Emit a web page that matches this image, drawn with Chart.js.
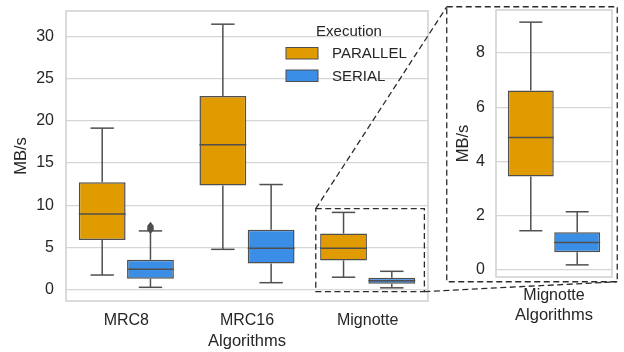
<!DOCTYPE html>
<html>
<head>
<meta charset="utf-8">
<script src="https://cdn.jsdelivr.net/npm/chart.js@4/dist/chart.umd.min.js"></script>
<style>
  html, body { margin: 0; padding: 0; background: #fff; }
  #wrap { position: relative; width: 624px; height: 352px; }
  #main { position: absolute; left: 0; top: 0; }
  #inset { position: absolute; left: 446px; top: 6px; }
</style>
</head>
<body>
<div id="wrap">
  <canvas id="main" width="624" height="352"></canvas>
  <canvas id="inset" width="172" height="320"></canvas>
</div>
<script>
const algorithms = ['MRC8', 'MRC16', 'Mignotte'];
const seriesNames = ['PARALLEL', 'SERIAL'];

const parallelMin = [1.7, 4.75, 1.44];
const parallelQ1 = [5.87, 12.33, 3.44];
const parallelMedian = [8.95, 17.17, 4.88];
const parallelQ3 = [12.73, 22.97, 6.62];
const parallelMax = [19.15, 31.5, 9.14];
const parallelOutliers = [[], [], []];

const serialMin = [0.24, 0.79, 0.18];
const serialQ1 = [1.26, 3.07, 0.65];
const serialMedian = [2.4, 4.88, 1.01];
const serialQ3 = [3.51, 7.09, 1.38];
const serialMax = [6.94, 12.45, 2.14];
const serialOutliers = [[7.1, 7.3, 7.5], [], []];

const mainTicks = [0, 5, 10, 15, 20, 25, 30];
const insetTicks = [0, 2, 4, 6, 8];

const orange = '#e09b00';
const blue = '#3a8ee6';
const edge = '#4f4f4f';
const gridColor = '#d6d6d6';
const textColor = '#262626';
const FONT = "'Liberation Sans', Arial, sans-serif";

// seaborn-like limits: 5% margin around the whiskers
function limits(idx) {
  const lo = Math.min(...idx.map(i => Math.min(parallelMin[i], serialMin[i])));
  const hi = Math.max(...idx.map(i => Math.max(parallelMax[i], serialMax[i])));
  const pad = (hi - lo) * 0.05;
  return [lo - pad, hi + pad];
}

function makeDatasets(idx, barPct) {
  const stats = [
    [parallelMin, parallelQ1, parallelMedian, parallelQ3, parallelMax, parallelOutliers, orange],
    [serialMin, serialQ1, serialMedian, serialQ3, serialMax, serialOutliers, blue]
  ];
  return stats.map(([mn, q1, md, q3, mx, out, col], s) => ({
    label: seriesNames[s],
    data: idx.map(i => [q1[i], q3[i]]),
    whisLow: idx.map(i => mn[i]),
    whisHigh: idx.map(i => mx[i]),
    median: idx.map(i => md[i]),
    outliers: idx.map(i => out[i]),
    backgroundColor: col,
    borderColor: edge,
    borderWidth: 1.5,
    borderSkipped: false,
    categoryPercentage: 0.8,
    barPercentage: barPct
  }));
}

const boxParts = {
  id: 'boxParts',
  beforeDatasetsDraw(chart) {
    const { ctx, chartArea: a } = chart;
    ctx.save();
    ctx.strokeStyle = '#cfcfcf';
    ctx.lineWidth = 1.5;
    ctx.strokeRect(a.left, a.top, a.right - a.left, a.bottom - a.top);
    ctx.restore();
  },
  afterDatasetsDraw(chart) {
    const { ctx } = chart;
    const y = chart.scales.y;
    ctx.save();
    ctx.strokeStyle = edge;
    ctx.fillStyle = edge;
    ctx.lineWidth = 1.5;
    chart.data.datasets.forEach((ds, di) => {
      chart.getDatasetMeta(di).data.forEach((bar, i) => {
        const x = bar.x, w = bar.width;
        const [q1, q3] = ds.data[i];
        const line = (x1, y1, x2, y2) => {
          ctx.beginPath(); ctx.moveTo(x1, y1); ctx.lineTo(x2, y2); ctx.stroke();
        };
        line(x, y.getPixelForValue(q3), x, y.getPixelForValue(ds.whisHigh[i]));
        line(x, y.getPixelForValue(q1), x, y.getPixelForValue(ds.whisLow[i]));
        line(x - w / 4, y.getPixelForValue(ds.whisHigh[i]), x + w / 4, y.getPixelForValue(ds.whisHigh[i]));
        line(x - w / 4, y.getPixelForValue(ds.whisLow[i]), x + w / 4, y.getPixelForValue(ds.whisLow[i]));
        line(x - w / 2, y.getPixelForValue(ds.median[i]), x + w / 2, y.getPixelForValue(ds.median[i]));
        ds.outliers[i].forEach(v => {
          const py = y.getPixelForValue(v);
          ctx.beginPath();
          ctx.moveTo(x, py - 4.5); ctx.lineTo(x + 3.5, py); ctx.lineTo(x, py + 4.5); ctx.lineTo(x - 3.5, py);
          ctx.closePath(); ctx.fill();
        });
      });
    });
    ctx.restore();
  }
};

const insetCanvas = document.getElementById('inset');
const insetFrame = { w: 170.5, h: 275 };
const zoomBoxX = [-0.43, 0.47];   // relative to Mignotte category, in category widths

const zoomMarks = {
  id: 'zoomMarks',
  afterDraw(chart) {
    const { ctx, chartArea: a } = chart;
    const x = chart.scales.x, y = chart.scales.y;
    const [ylo, yhi] = limits([2]);
    const catW = (a.right - a.left) / algorithms.length;
    const cx = x.getPixelForValue(2);
    const l = cx + zoomBoxX[0] * catW, r = cx + zoomBoxX[1] * catW;
    const t = y.getPixelForValue(yhi), b = y.getPixelForValue(ylo);
    const L = insetCanvas.offsetLeft + 0.75, T = insetCanvas.offsetTop + 0.75;
    const R = L + insetFrame.w, B = T + insetFrame.h;

    // legend
    ctx.save();
    ctx.font = '15px ' + FONT;
    ctx.fillStyle = textColor;
    ctx.textAlign = 'center';
    ctx.textBaseline = 'middle';
    ctx.fillText('Execution', 349, 32);
    ctx.textAlign = 'left';
    [orange, blue].forEach((c, k) => {
      const by = 47.5 + k * 22.5;
      ctx.fillStyle = c;
      ctx.fillRect(286, by, 32, 11.5);
      ctx.strokeStyle = edge;
      ctx.lineWidth = 1;
      ctx.strokeRect(286, by, 32, 11.5);
      ctx.fillStyle = textColor;
      ctx.fillText(seriesNames[k], 332, by + 6.5);
    });

    ctx.strokeStyle = '#2b2b2b';
    ctx.lineWidth = 1.3;
    ctx.setLineDash([6, 3.5]);
    ctx.strokeRect(l, t, r - l, b - t);
    ctx.beginPath(); ctx.moveTo(l, t); ctx.lineTo(L, T); ctx.stroke();
    ctx.beginPath(); ctx.moveTo(r, b); ctx.lineTo(R, B); ctx.stroke();
    ctx.restore();
  }
};

const insetBorder = {
  id: 'insetBorder',
  afterDraw(chart) {
    const { ctx } = chart;
    ctx.save();
    ctx.strokeStyle = '#2b2b2b';
    ctx.lineWidth = 1.3;
    ctx.setLineDash([6, 3.5]);
    ctx.strokeRect(0.75, 0.75, insetFrame.w, insetFrame.h);
    ctx.restore();
  }
};

function axisOptions(ticks, range, yWidth, xHeight, titlePad, tickPad, xTickPad) {
  return {
    x: {
      grid: { display: false },
      border: { display: false },
      ticks: { color: textColor, font: { family: FONT, size: 16 }, padding: xTickPad },
      title: { display: true, text: 'Algorithms', color: textColor, font: { family: FONT, size: 16.5 }, padding: { top: 0, bottom: 1 } },
      afterFit: s => { s.height = xHeight; s.paddingLeft = 0; s.paddingRight = 0; }
    },
    y: {
      min: range[0],
      max: range[1],
      afterBuildTicks: axis => { axis.ticks = ticks.map(v => ({ value: v })); },
      grid: { color: gridColor, lineWidth: 1.2, drawTicks: false },
      border: { display: false },
      ticks: { color: textColor, font: { family: FONT, size: 16 }, padding: tickPad },
      title: { display: true, text: 'MB/s', color: textColor, font: { family: FONT, size: 16.5 }, padding: { top: titlePad, bottom: 0 } },
      afterFit: s => { s.width = yWidth; s.paddingTop = 0; s.paddingBottom = 0; }
    }
  };
}

new Chart(document.getElementById('main'), {
  type: 'bar',
  data: { labels: algorithms, datasets: makeDatasets([0, 1, 2], 0.97) },
  options: {
    responsive: false,
    animation: false,
    layout: { padding: { top: 11, right: 196, bottom: 0, left: 0 } },
    plugins: { legend: { display: false }, tooltip: { enabled: false } },
    scales: axisOptions(mainTicks, limits([0, 1, 2]), 66, 51, 12, 12, 2)
  },
  plugins: [boxParts, zoomMarks]
});

new Chart(insetCanvas, {
  type: 'bar',
  data: { labels: [algorithms[2]], datasets: makeDatasets([2], 0.99) },
  options: {
    responsive: false,
    animation: false,
    layout: { padding: { top: 4, right: 6, bottom: 0, left: 0 } },
    plugins: { legend: { display: false }, tooltip: { enabled: false } },
    scales: axisOptions(insetTicks, limits([2]), 50, 49, 8, 11, 1)
  },
  plugins: [boxParts, insetBorder]
});
</script>
</body>
</html>
